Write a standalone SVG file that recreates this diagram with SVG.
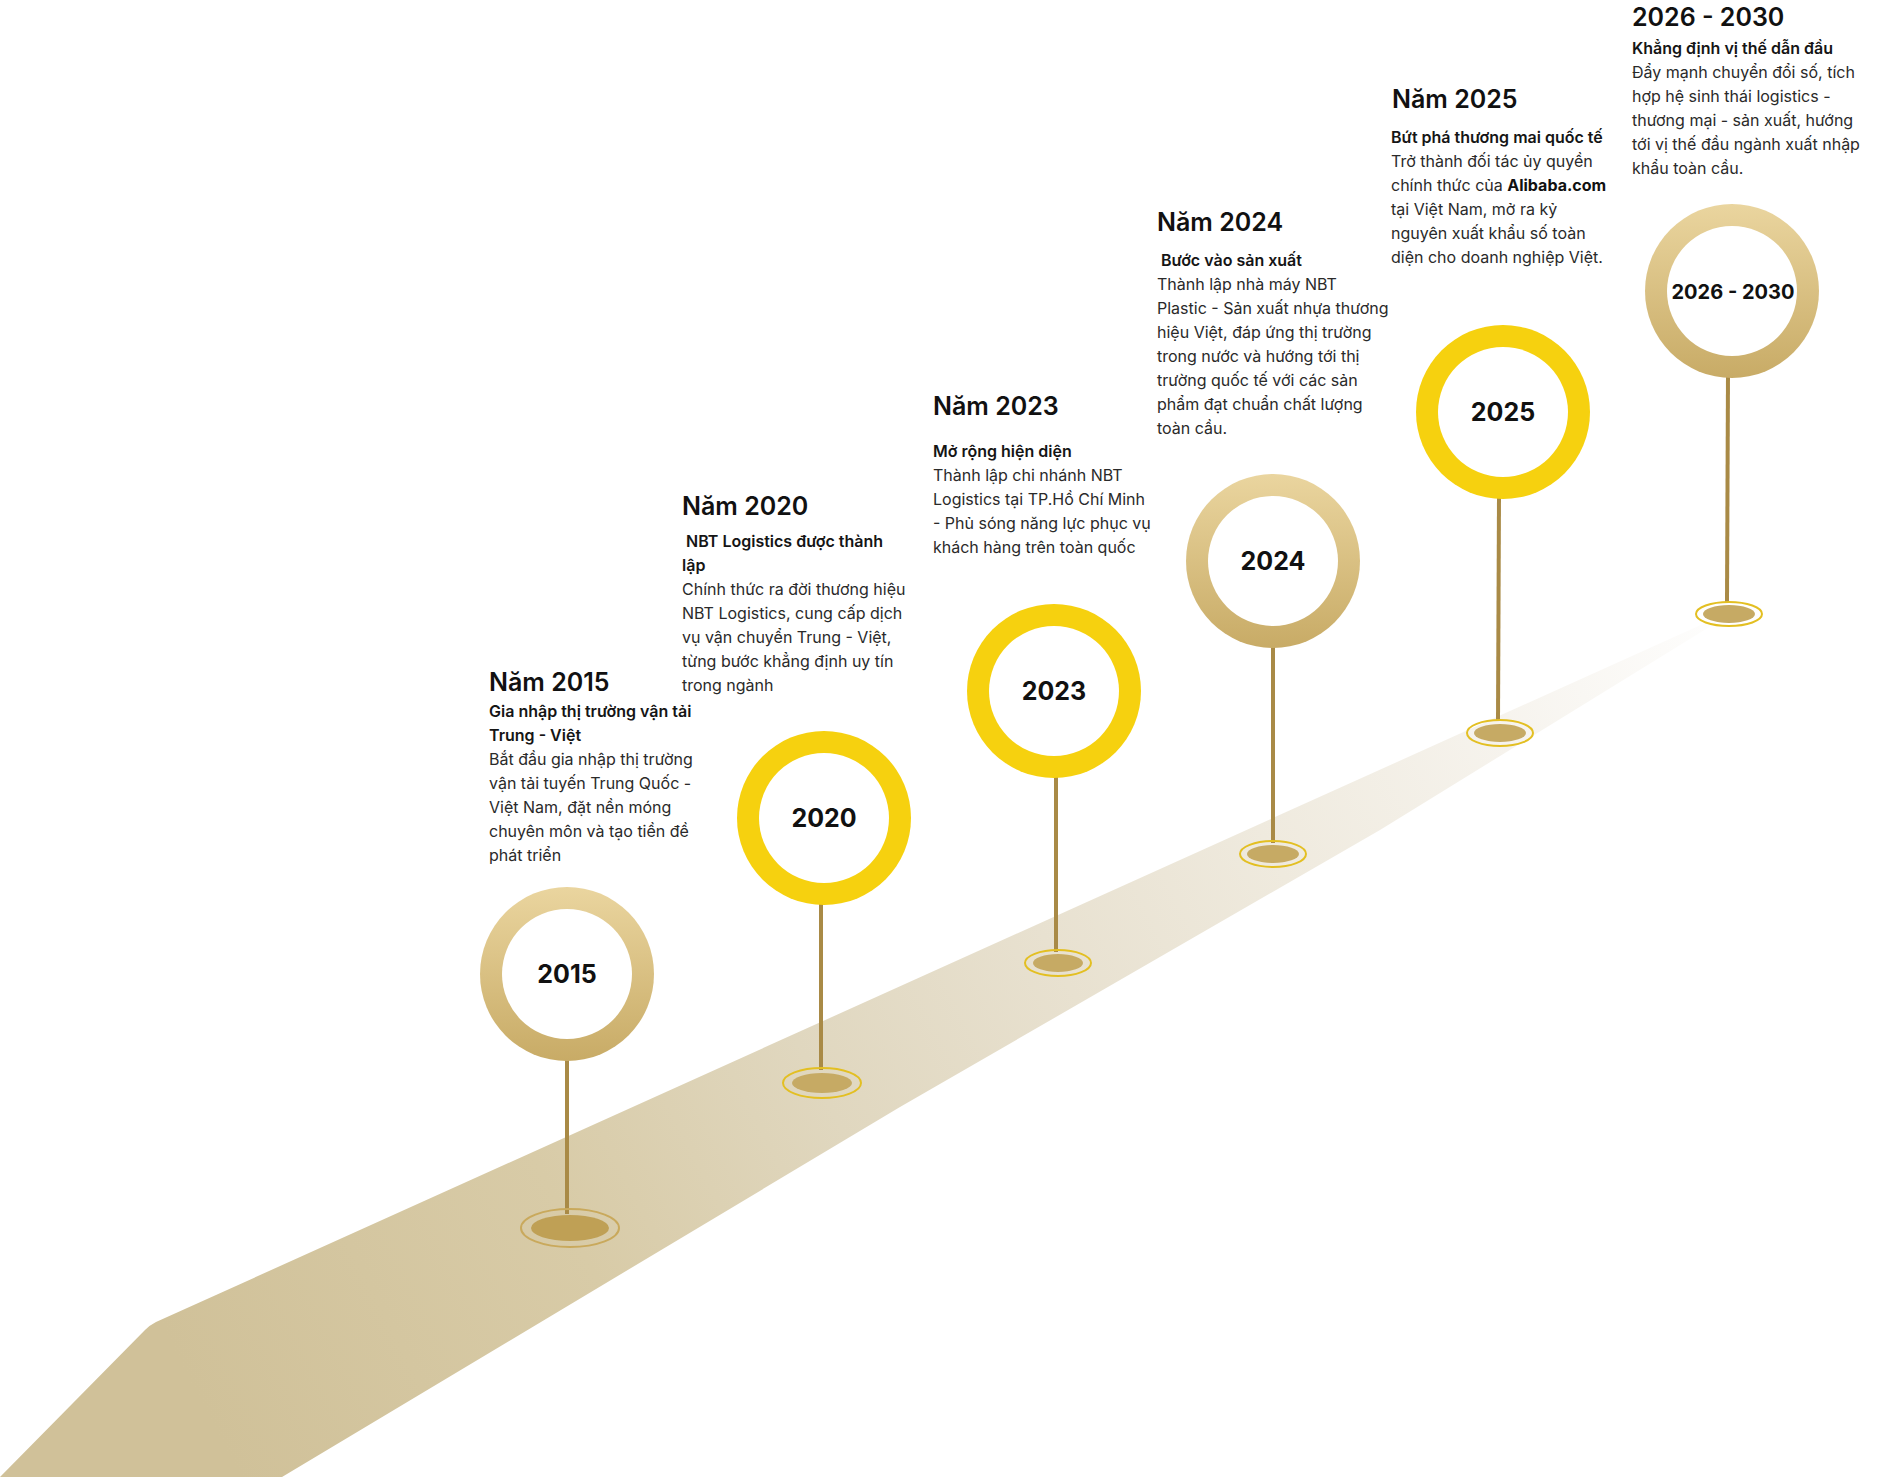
<svg xmlns="http://www.w3.org/2000/svg" width="1880" height="1477" viewBox="0 0 1880 1477">
<style>
text{font-family:Inter,"Noto Sans","Liberation Sans",sans-serif}
.h{font-size:25px;font-weight:600;fill:#111}
.s{font-size:16px;font-weight:600;fill:#151515}
.b{font-size:16px;font-weight:400;fill:#2a2a2a}
.lbl{font-size:25px;font-weight:700;fill:#111;text-anchor:middle}
.stem{stroke:#a98a46;stroke-width:4}
.ringY{fill:#f6d10f}
.ringG{fill:url(#gold)}
.inner{fill:#fff}
.baseY{fill:none;stroke:#e3bf22;stroke-width:2}
.baseG{fill:none;stroke:#c9a95c;stroke-width:2}
.dot{fill:#c6aa64}
</style>
<defs>
<linearGradient id="gold" x1="0" y1="0" x2="0" y2="1">
<stop offset="0" stop-color="#ead59f"/>
<stop offset="1" stop-color="#c8ab66"/>
</linearGradient>
<linearGradient id="road" gradientUnits="userSpaceOnUse" x1="200" y1="1400" x2="1745" y2="605">
<stop offset="0" stop-color="#d0c199"/>
<stop offset="0.235" stop-color="#d8cba7"/>
<stop offset="0.4" stop-color="#e0d7bf"/>
<stop offset="0.554" stop-color="#e8e1d0"/>
<stop offset="0.693" stop-color="#efeade"/>
<stop offset="0.84" stop-color="#f6f3ed"/>
<stop offset="1" stop-color="#ffffff"/>
</linearGradient>
</defs>
<rect width="1880" height="1477" fill="#fff"/>
<path id="road-path" d="M0 1477 L145 1330 Q150 1325 156 1322 L1745 605 L1380 830 L900 1107 L282 1477 Z" fill="url(#road)"/>

<g id="connectors">
<line class="stem" x1="567" y1="1058" x2="567" y2="1214"/>
<line class="stem" x1="821" y1="902" x2="821" y2="1070"/>
<line class="stem" x1="1056" y1="775" x2="1056" y2="952"/>
<line class="stem" x1="1273" y1="645" x2="1273" y2="843"/>
<line class="stem" x1="1499" y1="496" x2="1498" y2="721"/>
<line class="stem" x1="1728" y1="374" x2="1727" y2="602"/>
</g>

<g id="node-2015">
<ellipse class="baseG" cx="570" cy="1228" rx="49" ry="19"/>
<ellipse cx="570" cy="1228" rx="39" ry="13" fill="#bfa055"/>
<circle class="ringG" cx="567" cy="974" r="87"/>
<circle class="inner" cx="567" cy="974" r="65"/>
<text class="lbl" x="567" y="983">2015</text>
<text class="h" x="489" y="691">Năm 2015</text>
<text class="s" x="489" y="717">Gia nhập thị trường vận tải</text>
<text class="s" x="489" y="741">Trung - Việt</text>
<text class="b" x="489"><tspan x="489" y="765">Bắt đầu gia nhập thị trường</tspan><tspan x="489" y="789">vận tải tuyến Trung Quốc -</tspan><tspan x="489" y="813">Việt Nam, đặt nền móng</tspan><tspan x="489" y="837">chuyên môn và tạo tiền đề</tspan><tspan x="489" y="861">phát triển</tspan></text>
</g>

<g id="node-2020">
<ellipse class="baseY" cx="822" cy="1083" rx="39" ry="15"/>
<ellipse class="dot" cx="822" cy="1083" rx="30" ry="10"/>
<circle class="ringY" cx="824" cy="818" r="87"/>
<circle class="inner" cx="824" cy="818" r="65"/>
<text class="lbl" x="824" y="827">2020</text>
<text class="h" x="682" y="515">Năm 2020</text>
<text class="s" x="682" y="547" xml:space="preserve"> NBT Logistics được thành</text>
<text class="s" x="682" y="571">lập</text>
<text class="b"><tspan x="682" y="595">Chính thức ra đời thương hiệu</tspan><tspan x="682" y="619">NBT Logistics, cung cấp dịch</tspan><tspan x="682" y="643">vụ vận chuyển Trung - Việt,</tspan><tspan x="682" y="667">từng bước khẳng định uy tín</tspan><tspan x="682" y="691">trong ngành</tspan></text>
</g>

<g id="node-2023">
<ellipse class="baseY" cx="1058" cy="963" rx="33" ry="13"/>
<ellipse class="dot" cx="1058" cy="963" rx="25" ry="9"/>
<circle class="ringY" cx="1054" cy="691" r="87"/>
<circle class="inner" cx="1054" cy="691" r="65"/>
<text class="lbl" x="1054" y="700">2023</text>
<text class="h" x="933" y="415">Năm 2023</text>
<text class="s" x="933" y="457">Mở rộng hiện diện</text>
<text class="b"><tspan x="933" y="481">Thành lập chi nhánh NBT</tspan><tspan x="933" y="505">Logistics tại TP.Hồ Chí Minh</tspan><tspan x="933" y="529">- Phủ sóng năng lực phục vụ</tspan><tspan x="933" y="553">khách hàng trên toàn quốc</tspan></text>
</g>

<g id="node-2024">
<ellipse class="baseY" cx="1273" cy="854" rx="33" ry="13"/>
<ellipse class="dot" cx="1273" cy="854" rx="26" ry="9"/>
<circle class="ringG" cx="1273" cy="561" r="87"/>
<circle class="inner" cx="1273" cy="561" r="65"/>
<text class="lbl" x="1273" y="570">2024</text>
<text class="h" x="1157" y="231">Năm 2024</text>
<text class="s" x="1157" y="266" xml:space="preserve"> Bước vào sản xuất</text>
<text class="b"><tspan x="1157" y="290">Thành lập nhà máy NBT</tspan><tspan x="1157" y="314">Plastic - Sản xuất nhựa thương</tspan><tspan x="1157" y="338">hiệu Việt, đáp ứng thị trường</tspan><tspan x="1157" y="362">trong nước và hướng tới thị</tspan><tspan x="1157" y="386">trường quốc tế với các sản</tspan><tspan x="1157" y="410">phẩm đạt chuẩn chất lượng</tspan><tspan x="1157" y="434">toàn cầu.</tspan></text>
</g>

<g id="node-2025">
<ellipse class="baseY" cx="1500" cy="733" rx="33" ry="13"/>
<ellipse class="dot" cx="1500" cy="733" rx="26" ry="9"/>
<circle class="ringY" cx="1503" cy="412" r="87"/>
<circle class="inner" cx="1503" cy="412" r="65"/>
<text class="lbl" x="1503" y="421">2025</text>
<text class="h" x="1392" y="108">Năm 2025</text>
<text class="s" x="1391" y="143">Bứt phá thương mai quốc tế</text>
<text class="b"><tspan x="1391" y="167">Trở thành đối tác ủy quyền</tspan><tspan x="1391" y="191">chính thức của <tspan font-weight="700" fill="#111">Alibaba.com</tspan></tspan><tspan x="1391" y="215">tại Việt Nam, mở ra kỷ</tspan><tspan x="1391" y="239">nguyên xuất khẩu số toàn</tspan><tspan x="1391" y="263">diện cho doanh nghiệp Việt.</tspan></text>
</g>

<g id="node-2026-2030">
<ellipse class="baseY" cx="1729" cy="614" rx="33" ry="12"/>
<ellipse class="dot" cx="1729" cy="614" rx="26" ry="9"/>
<circle class="ringG" cx="1732" cy="291" r="87"/>
<circle class="inner" cx="1732" cy="291" r="65"/>
<text class="lbl" x="1733" y="299" style="font-size:20px">2026 - 2030</text>
<text class="h" x="1632" y="26">2026 - 2030</text>
<text class="s" x="1632" y="54">Khẳng định vị thế dẫn đầu</text>
<text class="b"><tspan x="1632" y="78">Đẩy mạnh chuyển đổi số, tích</tspan><tspan x="1632" y="102">hợp hệ sinh thái logistics -</tspan><tspan x="1632" y="126">thương mại - sản xuất, hướng</tspan><tspan x="1632" y="150">tới vị thế đầu ngành xuất nhập</tspan><tspan x="1632" y="174">khẩu toàn cầu.</tspan></text>
</g>
</svg>
